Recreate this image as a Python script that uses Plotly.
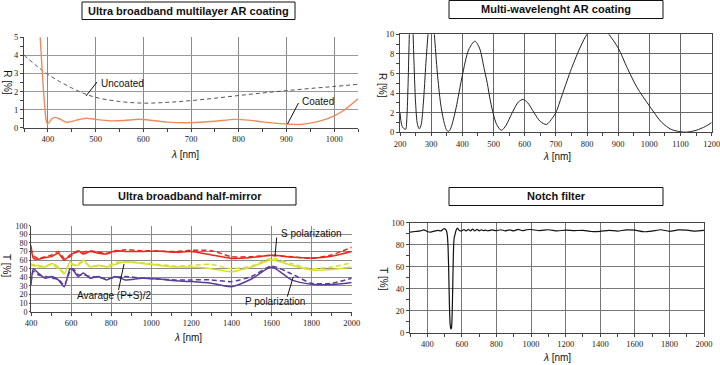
import plotly.graph_objects as go

W, H = 720, 365

# ---------------- Data ----------------
# Panel 1: Ultra broadband multilayer AR coating
coated_x = [382, 384, 388, 391, 394, 396.5, 399, 403, 408, 415, 425, 440, 460, 480, 500, 530, 560, 590, 620, 650,
            700, 750, 790, 820, 850, 880, 910, 930, 950, 980, 1000, 1020, 1050]
coated_y = [6.0, 5.0, 3.2, 2.0, 1.0, 0.4, 0.22, 0.3, 0.48, 0.57, 0.48, 0.3, 0.42, 0.52, 0.46, 0.38, 0.4, 0.47, 0.4, 0.31,
            0.28, 0.36, 0.46, 0.42, 0.32, 0.24, 0.19, 0.18, 0.25, 0.45, 0.66, 0.95, 1.6]
uncoated_x = [350, 375, 400, 425, 450, 475, 500, 550, 600, 650, 700, 750, 800, 850, 900, 950, 1000, 1050]
uncoated_y = [4.02, 3.45, 2.95, 2.55, 2.2, 1.9, 1.68, 1.45, 1.36, 1.4, 1.5, 1.63, 1.78, 1.92, 2.05, 2.17, 2.28, 2.4]

# Panel 2: Multi-wavelength AR coating
mw_x = [200, 205, 210, 218, 222, 226, 230, 235, 240, 244, 250, 256, 262, 268, 275, 283, 290, 300, 310, 320, 330, 340,
        350, 357, 365, 380, 400, 420, 440, 455, 470, 480, 490, 500, 510, 525, 540, 560, 580, 595, 610, 630, 650, 670,
        690, 700, 720, 750, 780, 800, 835, 870, 900, 930, 960, 1000, 1040, 1070, 1100, 1120, 1150, 1180, 1200]
mw_y = [2.0, 0.8, 0.45, 0.3, 1.5, 5.0, 10.0, 14.0, 12.0, 8.0, 3.0, 0.8, 0.35, 0.8, 3.0, 7.0, 10.0, 13.0, 10.0, 6.0, 3.0,
        1.2, 0.2, 0.1, 0.6, 2.5, 5.8, 8.4, 9.3, 8.6, 6.5, 5.0, 3.2, 1.8, 0.8, 0.2, 0.7, 2.0, 3.1, 3.35, 3.0, 2.0, 1.1,
        0.8, 1.5, 2.0, 3.8, 6.5, 8.8, 10.0, 11.2, 10.0, 8.6, 6.5, 4.6, 2.7, 1.0, 0.3, 0.05, 0.02, 0.2, 0.6, 1.0]

# Panel 3: Ultra broadband half-mirror
hm_x = [400, 412, 436, 470, 503, 536, 566, 595, 611, 636, 661, 695, 736, 778, 820, 870, 953, 1036, 1120, 1200,
        1300, 1400, 1500, 1600, 1700, 1800, 1900, 2000]
s_solid = [77, 62, 61, 63, 64, 68, 60, 66, 68, 71, 67, 70, 68, 67, 71, 70, 70, 70.5, 69, 70,
           66, 62, 63, 65.5, 63.5, 62.5, 64.5, 70]
s_dash = [74, 65, 62, 64, 66, 70, 62, 64, 67, 70, 69, 71, 69, 68, 70, 72, 71, 70.5, 70, 71.5,
          71, 64, 64, 65.5, 64, 62, 66, 75]
avg_solid = [56, 53, 54, 52, 56, 52, 44, 58, 55, 54, 60, 52, 54, 52, 55, 58, 56, 54, 52, 52,
             50, 46.5, 52, 60, 54, 48.5, 49, 52]
avg_dash = [54, 55, 52, 53, 55, 50, 46, 56, 54, 56, 58, 53, 53, 53, 57, 58, 57, 55, 53, 54,
            55, 50, 53, 62, 56, 50, 52, 57]
p_solid = [31, 50, 45, 39, 41, 37, 29, 50, 48, 41, 45, 39, 41, 37, 41, 37, 39, 38, 36, 35,
           33, 29, 38, 52, 37, 32, 31.5, 34]
p_dash = [34, 47, 43, 41, 39, 38, 31, 47, 50, 43, 43, 41, 40, 38, 40, 41, 39, 38, 37, 37,
          37, 35, 41, 53, 44, 33, 33, 39]

# Panel 4: Notch filter
notch_x = [300, 330, 360, 380, 400, 420, 440, 460, 480, 495, 505, 512, 516, 520, 524, 528, 532, 536, 540, 544,
           548, 552, 556, 560, 566, 574, 582, 590, 600, 612, 625, 637, 650, 662, 675, 687, 700, 712, 725, 737,
           750, 775, 800, 825, 850, 875, 900, 925, 950, 975, 1000, 1050, 1100, 1150, 1200, 1250, 1300, 1350,
           1400, 1450, 1500, 1550, 1600, 1650, 1700, 1750, 1800, 1850, 1900, 1950, 2000]
notch_y = [91.5, 92, 92.5, 93.5, 92, 91.5, 92.3, 93, 92.5, 94.5, 94, 92, 88, 78, 55, 25, 8, 3.5, 4.5, 18,
           50, 78, 87, 89, 93, 95, 93.5, 92.5, 92.8, 93.8, 92.5, 94, 92.5, 94.2, 92.5, 94, 92.6, 93.5, 92.8, 93.2,
           92.6, 93.4, 92.7, 93.6, 92.6, 93.5, 92.6, 94, 92.8, 93.6, 93.8, 92.8, 93.6, 92.6, 93.2, 92.8, 93, 92,
           92.2, 93, 92.4, 93.4, 93.2, 91.8, 92.4, 93.6, 92.2, 93.4, 93.2, 92.4, 93.0]

# ---------------- Helpers ----------------
def px(x):
    return x / W

def py(y):
    return 1 - y / H

GRID = "#8a8a8a"

def tfont(size=8.5):
    return dict(family="Liberation Serif", size=size, color="#222")

def axis(dom, rng, dtick, minor, anchor, grid=GRID, size=8.5):
    return dict(domain=dom, range=rng, dtick=dtick, tick0=0, anchor=anchor, showgrid=True, gridcolor=grid,
                gridwidth=1, ticks="outside", ticklen=3, tickcolor="#444", showline=True, linecolor="#444",
                linewidth=1, mirror=False, zeroline=False, tickfont=tfont(size), fixedrange=True,
                automargin=False, ticklabeloverflow="allow",
                minor=dict(dtick=minor, ticks="outside", ticklen=3, tickcolor="#444", showgrid=False))

fig = go.Figure()

# Panel 1
fig.add_trace(go.Scatter(x=uncoated_x, y=uncoated_y, mode="lines", line=dict(color="#555", width=1, dash="4px,3px", shape="spline"),
                         xaxis="x", yaxis="y", showlegend=False, hoverinfo="skip"))
fig.add_trace(go.Scatter(x=coated_x, y=coated_y, mode="lines", line=dict(color="#f08a5e", width=1.4, shape="spline", smoothing=0.6),
                         xaxis="x", yaxis="y", showlegend=False, hoverinfo="skip"))
# Panel 2
fig.add_trace(go.Scatter(x=mw_x, y=mw_y, mode="lines", line=dict(color="#222", width=1, shape="spline", smoothing=0.8),
                         xaxis="x2", yaxis="y2", showlegend=False, hoverinfo="skip"))
# Panel 3
RED, YEL, PUR = "#e8281c", "#d8df2a", "#5a3c9c"
for ys, col, dash in [(s_solid, RED, "solid"), (s_dash, RED, "5px,3px"), (avg_solid, YEL, "solid"),
                      (avg_dash, YEL, "5px,3px"), (p_solid, PUR, "solid"), (p_dash, PUR, "5px,3px")]:
    fig.add_trace(go.Scatter(x=hm_x, y=ys, mode="lines", line=dict(color=col, width=1.5, dash=dash, shape="spline", smoothing=0.6),
                             xaxis="x3", yaxis="y3", showlegend=False, hoverinfo="skip"))
# Panel 4
fig.add_trace(go.Scatter(x=notch_x, y=notch_y, mode="lines", line=dict(color="#111", width=1.2, shape="spline", smoothing=0.5),
                         xaxis="x4", yaxis="y4", showlegend=False, hoverinfo="skip"))

layout = dict(width=W, height=H, margin=dict(l=0, r=0, t=0, b=0, autoexpand=False), paper_bgcolor="white",
              plot_bgcolor="white", showlegend=False)
layout["xaxis"] = axis([px(24), px(358)], [350, 1050], 100, 50, "y")
layout["yaxis"] = axis([py(127.7), py(37.3)], [0, 5], 1, 0.5, "x", grid="#999")
layout["xaxis2"] = axis([px(400), px(711.7)], [200, 1200], 100, 50, "y2", grid="#666")
layout["yaxis2"] = axis([py(132.3), py(34.3)], [0, 10], 2, 1, "x2", grid="#666")
layout["xaxis2"]["mirror"] = True
layout["yaxis2"]["mirror"] = True
layout["xaxis3"] = axis([px(31), px(351.7)], [400, 2000], 200, 100, "y3")
layout["yaxis3"] = axis([py(311.7), py(225.7)], [0, 100], 10, 5, "x3", size=8)
layout["yaxis3"]["minor"]["ticks"] = ""
layout["yaxis3"]["ticklen"] = 1
layout["xaxis4"] = axis([px(410), px(704)], [300, 2000], 200, 100, "y4", grid="#777")
layout["yaxis4"] = axis([py(332.7), py(222.7)], [0, 100], 20, 10, "x4", grid="#777")
layout["xaxis4"]["mirror"] = True
layout["yaxis4"]["mirror"] = True
layout["xaxis4"]["tick0"] = 400
fig.update_layout(**layout)

shapes = []
annotations = []

# Title boxes
TITLE_FONT = dict(family="Liberation Sans", size=11, color="#111")
for (x0, x1, y0, y1, txt) in [(82, 295, 2, 19.5, "<b>Ultra broadband multilayer AR coating</b>"),
                              (449, 663, 0.5, 18.5, "<b>Multi-wavelenght AR coating</b>"),
                              (83, 296, 187.5, 205, "<b>Ultra broadband half-mirror</b>"),
                              (449, 663, 187.5, 205.5, "<b>Notch filter</b>")]:
    shapes.append(dict(type="rect", xref="paper", yref="paper", x0=px(x0), x1=px(x1), y0=py(y1), y1=py(y0),
                       line=dict(color="#111", width=1), fillcolor="rgba(0,0,0,0)"))
    annotations.append(dict(xref="paper", yref="paper", x=px((x0 + x1) / 2), y=py((y0 + y1) / 2), text=txt,
                            showarrow=False, font=TITLE_FONT, xanchor="center", yanchor="middle"))

LABEL_FONT = dict(family="Liberation Sans", size=10, color="#111")
# Axis titles
for (x, y, t, ang) in [(7.5, 82.7, "R [%]", 90), (383, 85, "R [%]", 90), (7, 265, "T [%]", 90), (384, 278.3, "T [%]", 90)]:
    annotations.append(dict(xref="paper", yref="paper", x=px(x), y=py(y), text=t, textangle=ang, showarrow=False,
                            font=LABEL_FONT, xanchor="center", yanchor="middle"))
for (x, y) in [(185, 154), (556.7, 156.7), (188.3, 337.3), (556.7, 357.3)]:
    annotations.append(dict(xref="paper", yref="paper", x=px(x), y=py(y), text="<i>λ</i> [nm]", showarrow=False,
                            font=LABEL_FONT, xanchor="center", yanchor="middle"))

# In-plot labels with leader lines
ANN_FONT = dict(family="Liberation Sans", size=10, color="#111")
for (x, y, t) in [(99, 83.5, "Uncoated"), (300, 101.7, "Coated"), (278.5, 233.5, "S polarization"),
                  (75, 295.5, "Avarage (P+S)/2"), (242.5, 301.8, "P polarization")]:
    annotations.append(dict(xref="paper", yref="paper", x=px(x), y=py(y), text=t, showarrow=False,
                            font=ANN_FONT, xanchor="left", yanchor="middle"))
for (x0, y0, x1, y1) in [(97, 82, 86, 96), (298.5, 103, 287.5, 124), (276.7, 237.5, 275, 256.5),
                         (118.5, 290, 124, 264), (287.3, 296.7, 293.3, 276.7)]:
    shapes.append(dict(type="line", xref="paper", yref="paper", x0=px(x0), y0=py(y0), x1=px(x1), y1=py(y1),
                       line=dict(color="#111", width=1)))

fig.update_layout(shapes=shapes, annotations=annotations, hovermode=False)
fig.write_html("out.html", config={"displayModeBar": False, "staticPlot": True},
               post_script="document.body.style.margin='0';document.body.style.padding='0';"
                           "document.body.style.overflow='hidden';")
